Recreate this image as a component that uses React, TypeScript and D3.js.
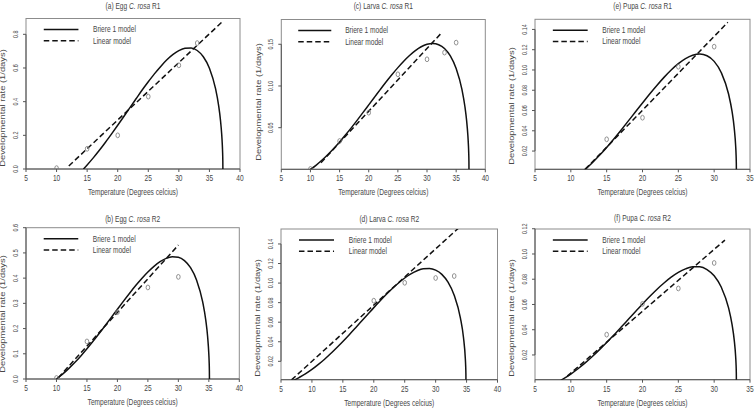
import React from "react";
import * as d3 from "d3";

// ---------- DATA ----------
// (a) Egg R1
const eggR1ObsTemp = [10, 15, 20, 25, 30, 33];
const eggR1ObsRate = [0.005, 0.12, 0.2, 0.43, 0.616, 0.748];
const eggR1BriereTemp = [14.4, 15, 16, 17, 18, 19, 20, 21, 22, 23, 24, 25, 26, 27, 28, 29, 30, 31, 32, 33, 34, 35, 36, 36.5, 36.8, 37, 37.1, 37.15, 37.19, 37.2];
const eggR1BriereRate = [0, 0.024, 0.066, 0.111, 0.159, 0.209, 0.26, 0.312, 0.365, 0.417, 0.469, 0.518, 0.565, 0.608, 0.647, 0.679, 0.703, 0.717, 0.719, 0.704, 0.667, 0.599, 0.477, 0.378, 0.292, 0.209, 0.149, 0.106, 0.047, 0];
const eggR1LinearTemp = [12, 37.2];
const eggR1LinearRate = [0.018, 0.878];

// (c) Larva R1
const larvaR1ObsTemp = [10, 15, 20, 25, 30, 33, 35];
const larvaR1ObsRate = [0.0005, 0.034, 0.068, 0.114, 0.132, 0.14, 0.152];
const larvaR1BriereTemp = [10, 11, 12, 13, 14, 15, 16, 17, 18, 19, 20, 21, 22, 23, 24, 25, 26, 27, 28, 29, 30, 31, 32, 33, 34, 35, 36, 36.5, 36.8, 37, 37.1, 37.15, 37.19, 37.2];
const larvaR1BriereRate = [0, 0.0052, 0.0112, 0.0179, 0.0251, 0.0329, 0.0412, 0.0498, 0.0588, 0.068, 0.0773, 0.0866, 0.0959, 0.105, 0.1137, 0.122, 0.1297, 0.1366, 0.1424, 0.147, 0.15, 0.151, 0.1495, 0.1449, 0.136, 0.1209, 0.0955, 0.0754, 0.0581, 0.0416, 0.0296, 0.021, 0.0094, 0];
const larvaR1LinearTemp = [11.8, 32.4];
const larvaR1LinearRate = [0.008, 0.163];

// (e) Pupa R1
const pupaR1ObsTemp = [15, 20, 25, 30];
const pupaR1ObsRate = [0.0316, 0.0529, 0.1032, 0.123];
const pupaR1BriereTemp = [11.7, 12, 13, 14, 15, 16, 17, 18, 19, 20, 21, 22, 23, 24, 25, 26, 27, 28, 29, 30, 31, 32, 32.5, 32.8, 33, 33.05, 33.09, 33.1];
const pupaR1BriereRate = [0, 0.0019, 0.0085, 0.0158, 0.0236, 0.0319, 0.0406, 0.0495, 0.0585, 0.0674, 0.0763, 0.0847, 0.0927, 0.1, 0.1062, 0.1112, 0.1145, 0.1157, 0.114, 0.1085, 0.0973, 0.0765, 0.0588, 0.0426, 0.025, 0.0177, 0.0079, 0];
const pupaR1LinearTemp = [12, 31.9];
const pupaR1LinearRate = [0.002, 0.147];

// (b) Egg R2
const eggR2ObsTemp = [10, 15, 20, 25, 30];
const eggR2ObsRate = [0.004, 0.149, 0.265, 0.363, 0.405];
const eggR2BriereTemp = [10, 11, 12, 13, 14, 15, 16, 17, 18, 19, 20, 21, 22, 23, 24, 25, 26, 27, 28, 29, 30, 31, 32, 33, 34, 34.5, 34.8, 35, 35.05, 35.09, 35.1];
const eggR2BriereRate = [0, 0.0192, 0.0411, 0.0653, 0.0916, 0.1197, 0.1494, 0.1803, 0.2121, 0.2443, 0.2768, 0.3089, 0.3403, 0.3704, 0.3986, 0.4244, 0.4469, 0.4652, 0.4782, 0.4846, 0.4825, 0.4694, 0.4414, 0.3917, 0.3048, 0.2331, 0.1683, 0.0985, 0.0699, 0.0314, 0];
const eggR2LinearTemp = [10.3, 30];
const eggR2LinearRate = [0.005, 0.531];

// (d) Larva R2
const larvaR2ObsTemp = [20, 25, 30, 33];
const larvaR2ObsRate = [0.082, 0.1003, 0.1052, 0.1072];
const larvaR2BriereTemp = [6.8, 7, 8, 9, 10, 11, 12, 13, 14, 15, 16, 17, 18, 19, 20, 21, 22, 23, 24, 25, 26, 27, 28, 29, 30, 31, 32, 33, 34, 34.5, 34.8, 34.85, 34.89, 34.9];
const larvaR2BriereRate = [0, 0.0005, 0.0037, 0.0074, 0.0117, 0.0166, 0.0219, 0.0277, 0.0339, 0.0403, 0.047, 0.0539, 0.0609, 0.0679, 0.0749, 0.0817, 0.0883, 0.0945, 0.1001, 0.1052, 0.1094, 0.1126, 0.1146, 0.1149, 0.1132, 0.1089, 0.1009, 0.0876, 0.0645, 0.0444, 0.0226, 0.0161, 0.0072, 0];
const larvaR2LinearTemp = [6.7, 34];
const larvaR2LinearRate = [0.001, 0.158];

// (f) Pupa R2
const pupaR2ObsTemp = [15, 20, 25, 30];
const pupaR2ObsRate = [0.0361, 0.0605, 0.0727, 0.0929];
const pupaR2BriereTemp = [8.6, 9, 10, 11, 12, 13, 14, 15, 16, 17, 18, 19, 20, 21, 22, 23, 24, 25, 26, 27, 28, 29, 30, 31, 32, 32.5, 32.8, 33, 33.05, 33.09, 33.1];
const pupaR2BriereRate = [0, 0.0013, 0.0049, 0.0091, 0.0137, 0.0188, 0.0242, 0.0299, 0.0358, 0.0419, 0.0481, 0.0543, 0.0604, 0.0663, 0.0719, 0.077, 0.0816, 0.0854, 0.0882, 0.0898, 0.0898, 0.0877, 0.0827, 0.0736, 0.0575, 0.044, 0.0318, 0.0186, 0.0132, 0.0059, 0];
const pupaR2LinearTemp = [9.5, 31.5];
const pupaR2LinearRate = [0.0032, 0.111];

// Titles and ticks
const titlePrefix = ["(a) Egg ", "(c) Larva ", "(e) Pupa ", "(b) Egg ", "(d) Larva ", "(f) Pupa "];
const titleSpecies = "C. rosa";
const titleSuffix = [" R1", " R1", " R1", " R2", " R2", " R2"];
const xTicks40 = [5, 10, 15, 20, 25, 30, 35, 40];
const xTicks35 = [5, 10, 15, 20, 25, 30, 35];
const yTicksEggR1 = [0, 0.2, 0.4, 0.6, 0.8];
const yTicksLarvaR1 = [0.05, 0.1, 0.15];
const yTicksPupaR1 = [0.02, 0.04, 0.06, 0.08, 0.1, 0.12, 0.14];
const yTicksEggR2 = [0, 0.1, 0.2, 0.3, 0.4, 0.5, 0.6];
const yTicksLarvaR2 = [0.02, 0.04, 0.06, 0.08, 0.1, 0.12, 0.14];
const yTicksPupaR2 = [0.02, 0.04, 0.06, 0.08, 0.1, 0.12];
const xLabel = "Temperature (Degrees celcius)";
const yLabel = "Developmental rate (1/days)";
const legendLabels = ["Briere 1 model", "Linear model"];

// ---------- LAYOUT ----------
const SY = 1.42; // vertical stretch of horizontal text
const SL = 1.42; // stretch along the length of the rotated axis title
const ST = 0.82; // rotated tick labels
const FONT = "'Liberation Sans', Arial, Helvetica, sans-serif";
const FS = 6.6;
const TXT = "#474747";

const panels = [
  { obsT: eggR1ObsTemp, obsR: eggR1ObsRate, bT: eggR1BriereTemp, bR: eggR1BriereRate, lT: eggR1LinearTemp, lR: eggR1LinearRate,
    xTicks: xTicks40, yTicks: yTicksEggR1, yDec: 1, xDomain: [5, 40], yDomain: [0, 0.894],
    left: 26, right: 240, top: 18.5, bottom: 169, titleY: 6, yLabY: 108 },
  { obsT: larvaR1ObsTemp, obsR: larvaR1ObsRate, bT: larvaR1BriereTemp, bR: larvaR1BriereRate, lT: larvaR1LinearTemp, lR: larvaR1LinearRate,
    xTicks: xTicks40, yTicks: yTicksLarvaR1, yDec: 2, xDomain: [5, 40], yDomain: [0.0001, 0.1797],
    left: 281.3, right: 485.3, top: 19.5, bottom: 169.3, titleY: 6, yLabY: 102 },
  { obsT: pupaR1ObsTemp, obsR: pupaR1ObsRate, bT: pupaR1BriereTemp, bR: pupaR1BriereRate, lT: pupaR1LinearTemp, lR: pupaR1LinearRate,
    xTicks: xTicks35, yTicks: yTicksPupaR1, yDec: 2, xDomain: [5, 35], yDomain: [0.002, 0.15],
    left: 535, right: 750, top: 19.3, bottom: 169.3, titleY: 6, yLabY: 106 },
  { obsT: eggR2ObsTemp, obsR: eggR2ObsRate, bT: eggR2BriereTemp, bR: eggR2BriereRate, lT: eggR2LinearTemp, lR: eggR2LinearRate,
    xTicks: xTicks40, yTicks: yTicksEggR2, yDec: 1, xDomain: [5, 40], yDomain: [0, 0.6],
    left: 26, right: 239.3, top: 227.7, bottom: 379, titleY: 219, yLabY: 314 },
  { obsT: larvaR2ObsTemp, obsR: larvaR2ObsRate, bT: larvaR2BriereTemp, bR: larvaR2BriereRate, lT: larvaR2LinearTemp, lR: larvaR2LinearRate,
    xTicks: xTicks40, yTicks: yTicksLarvaR2, yDec: 2, xDomain: [5, 40], yDomain: [0.0012, 0.1553],
    left: 281, right: 497.5, top: 229, bottom: 379.7, titleY: 219, yLabY: 318 },
  { obsT: pupaR2ObsTemp, obsR: pupaR2ObsRate, bT: pupaR2BriereTemp, bR: pupaR2BriereRate, lT: pupaR2LinearTemp, lR: pupaR2LinearRate,
    xTicks: xTicks35, yTicks: yTicksPupaR2, yDec: 2, xDomain: [5, 35], yDomain: [0.0004, 0.1198],
    left: 535, right: 750, top: 229, bottom: 379.7, titleY: 218, yLabY: 318 },
];

function HText({ x, y, anchor = "middle", children }: any) {
  return (
    <g transform={`translate(${x},${y}) scale(1,${SY})`}>
      <text x={0} y={0} textAnchor={anchor} dominantBaseline="central" fontFamily={FONT} fontSize={FS} fill={TXT}>
        {children}
      </text>
    </g>
  );
}

function VText({ x, y, s, children }: any) {
  return (
    <g transform={`translate(${x},${y}) scale(1,${s}) rotate(-90)`}>
      <text x={0} y={0} textAnchor="middle" dominantBaseline="central" fontFamily={FONT} fontSize={FS} fill={TXT}>
        {children}
      </text>
    </g>
  );
}

function Panel({ p, i }: any) {
  const x = d3.scaleLinear().domain(p.xDomain).range([p.left, p.right]);
  const y = d3.scaleLinear().domain(p.yDomain).range([p.bottom, p.top]);
  const briere: [number, number][] = p.bT.map((t: number, k: number) => [t, p.bR[k]]);
  const linear: [number, number][] = p.lT.map((t: number, k: number) => [t, p.lR[k]]);
  const briereLine = d3.line<[number, number]>().x((d) => x(d[0])).y((d) => y(d[1])).curve(d3.curveMonotoneX)(briere) || "";
  const linearLine = d3.line<[number, number]>().x((d) => x(d[0])).y((d) => y(d[1]))(linear) || "";
  const w = p.right - p.left;
  const cx = (p.left + p.right) / 2;
  const clipId = `clip-${i}`;
  const lx1 = p.left + w * 0.083;
  const lx2 = p.left + w * 0.245;
  const ltx = p.left + w * 0.313;
  const ly1 = p.top + 11;
  const ly2 = p.top + 22.3;
  const fmt = d3.format(`.${p.yDec}f`);
  return (
    <g>
      <defs>
        <clipPath id={clipId}>
          <rect x={p.left} y={p.top} width={w} height={p.bottom - p.top} />
        </clipPath>
      </defs>
      <rect x={p.left} y={p.top} width={w} height={p.bottom - p.top} fill="none" stroke="#8c8c8c" strokeWidth={1} />
      <line x1={x(p.xTicks[0])} x2={x(p.xTicks[p.xTicks.length - 1])} y1={p.bottom} y2={p.bottom} stroke="#555" strokeWidth={1} />
      <line x1={p.left} x2={p.left} y1={y(p.yTicks[0])} y2={y(p.yTicks[p.yTicks.length - 1])} stroke="#555" strokeWidth={1} />
      {p.xTicks.map((t: number) => (
        <g key={`xt${t}`}>
          <line x1={x(t)} x2={x(t)} y1={p.bottom} y2={p.bottom + 3} stroke="#555" strokeWidth={1} />
          <HText x={x(t)} y={p.bottom + 9.3}>{t}</HText>
        </g>
      ))}
      {p.yTicks.map((t: number) => (
        <g key={`yt${t}`}>
          <line x1={p.left - 3} x2={p.left} y1={y(t)} y2={y(t)} stroke="#555" strokeWidth={1} />
          <VText x={p.left - 10.3} y={y(t)} s={ST}>{fmt(t)}</VText>
        </g>
      ))}
      <HText x={cx} y={p.titleY}>
        {titlePrefix[i]}
        <tspan fontStyle="italic">{titleSpecies}</tspan>
        {titleSuffix[i]}
      </HText>
      <HText x={cx} y={p.bottom + 23.2}>{xLabel}</HText>
      <VText x={p.left - 22.7} y={p.yLabY} s={SL}>{yLabel}</VText>
      <g clipPath={`url(#${clipId})`}>
        <path d={linearLine} fill="none" stroke="#111" strokeWidth={1.5} strokeDasharray="5.5,3" />
        <path d={briereLine} fill="none" stroke="#111" strokeWidth={1.5} />
        {p.obsT.map((t: number, k: number) => (
          <ellipse key={`o${k}`} cx={x(t)} cy={y(p.obsR[k])} rx={1.8} ry={2.4} fill="none" stroke="#777" strokeWidth={0.8} />
        ))}
      </g>
      <line x1={lx1} x2={lx2} y1={ly1} y2={ly1} stroke="#111" strokeWidth={1.5} />
      <line x1={lx1} x2={lx2} y1={ly2} y2={ly2} stroke="#111" strokeWidth={1.5} strokeDasharray="5.5,3" />
      <HText x={ltx} y={ly1} anchor="start">{legendLabels[0]}</HText>
      <HText x={ltx} y={ly2} anchor="start">{legendLabels[1]}</HText>
    </g>
  );
}

export default function App() {
  return (
    <svg width={756} height={409} style={{ position: "fixed", left: 0, top: 0, background: "#fff" }}>
      <rect x={0} y={0} width={756} height={409} fill="#fff" />
      {panels.map((p, i) => (
        <Panel key={i} p={p} i={i} />
      ))}
    </svg>
  );
}
